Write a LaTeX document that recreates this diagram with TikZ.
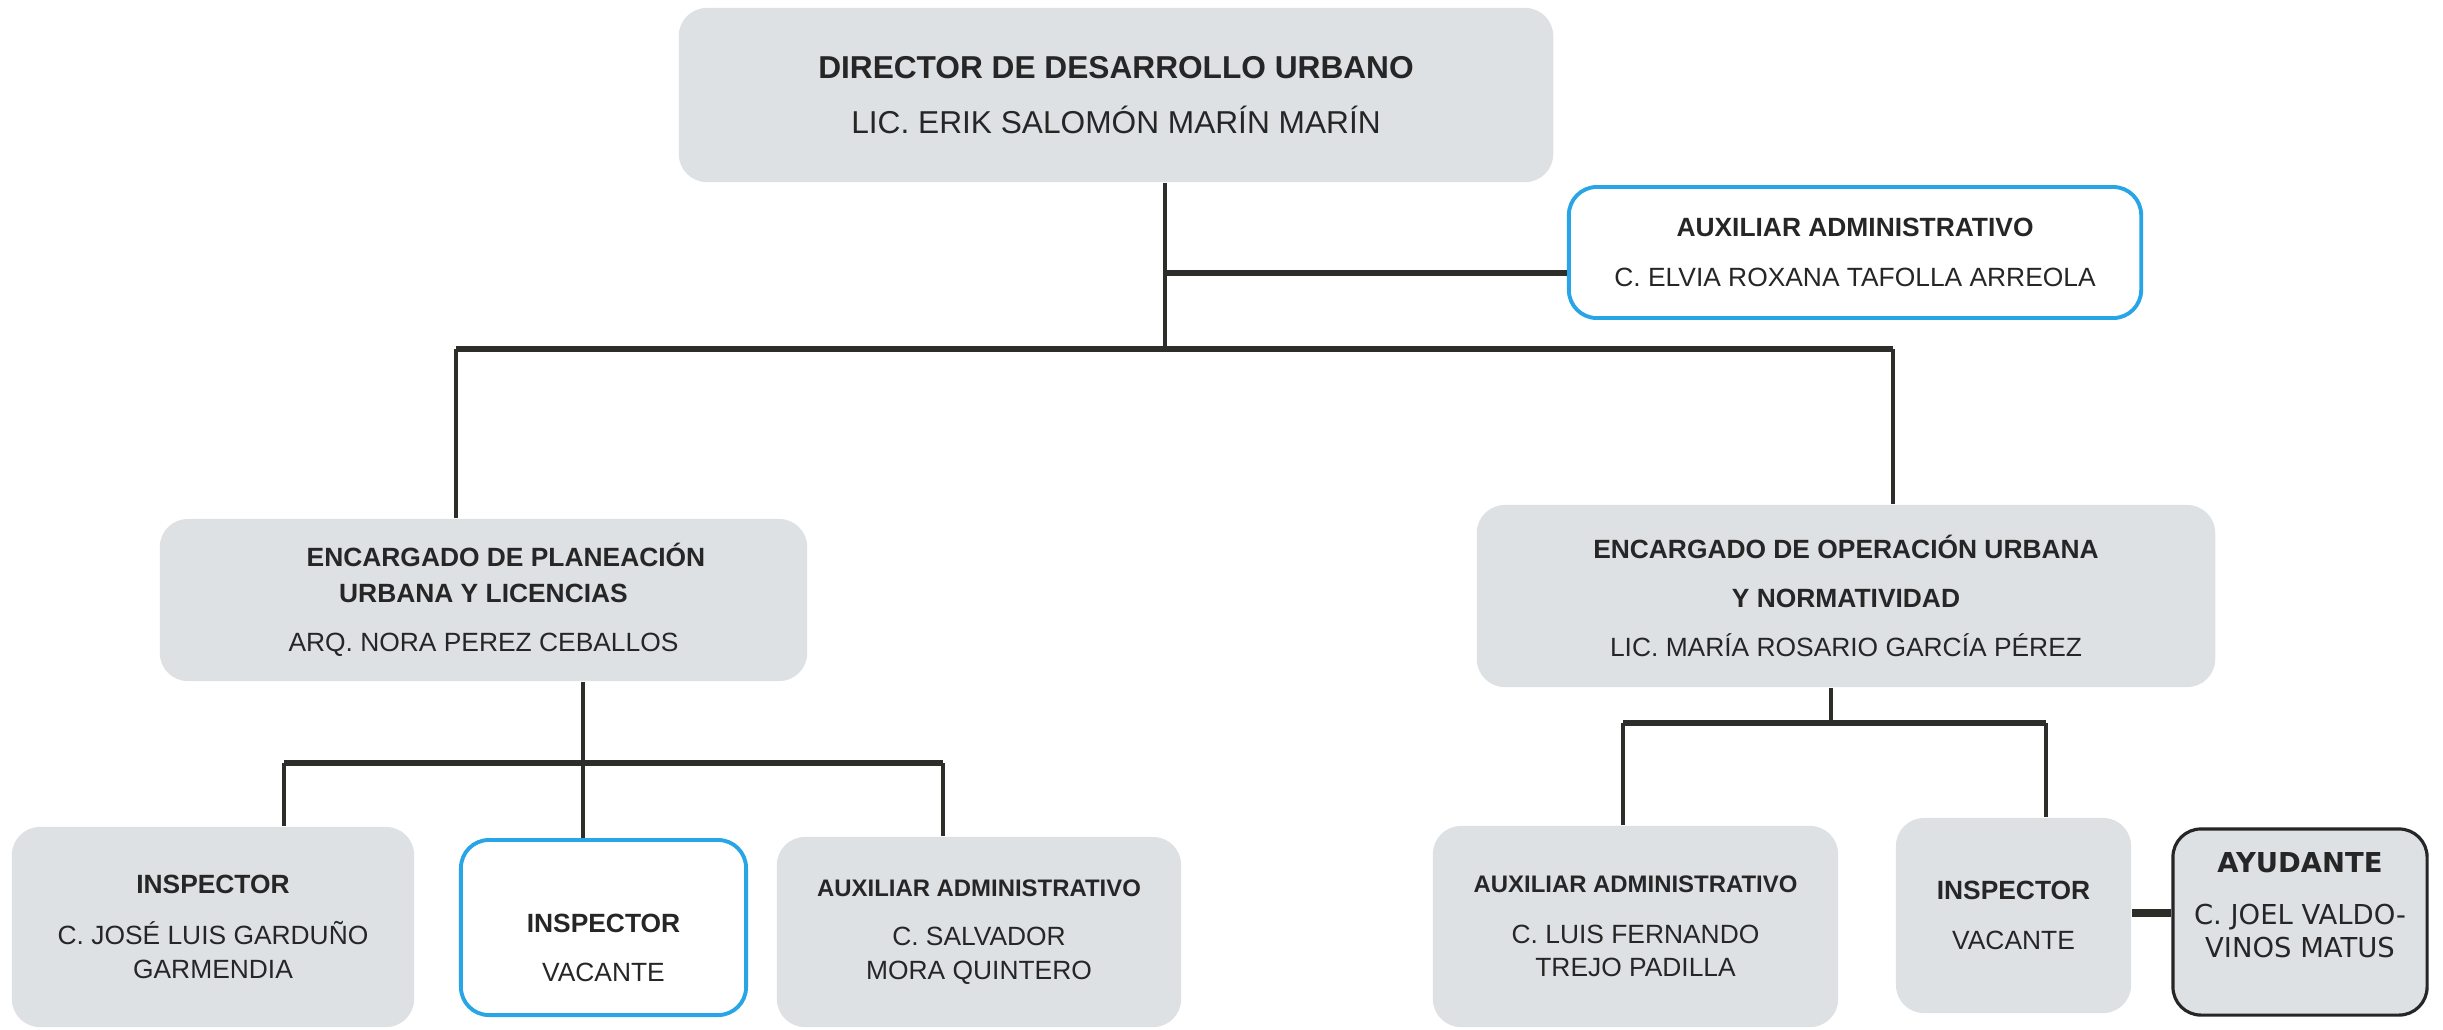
\documentclass[tikz,border=0pt]{standalone}
\usepackage{fontspec}
\setmainfont{Liberation Sans}
\newfontfamily\ayufont{DejaVu Sans}
\usepackage{tikz}
\usetikzlibrary{positioning, calc}
\definecolor{cajagris}{RGB}{221,225,228}
\definecolor{bordeazul}{RGB}{40,165,230}
\definecolor{lineaorg}{RGB}{45,45,42}

\tikzset{
  cargo/.style={rectangle, rounded corners=0.28cm, fill=cajagris, inner sep=0pt,
    align=center, font=\fontsize{7.5}{9}\selectfont, text=black!85},
  vacbox/.style={cargo, fill=white, draw=bordeazul, line width=1.1pt},
  ayubox/.style={cargo, draw=black!85, line width=0.9pt, font=\ayufont\fontsize{7.8}{9.4}\selectfont},
  vline/.style={draw=lineaorg, line width=1pt},
  hline/.style={draw=lineaorg, line width=1.7pt}
}
\newcommand{\puestochico}[1]{{\fontsize{6.8}{8}\selectfont\textbf{#1}}}

\begin{document}
\begin{tikzpicture}[x=0.01cm, y=-0.01cm]

    % === MARCO ===
    \path[fill=white] (0,0) rectangle (2443,1029);
    \useasboundingbox (0,0) rectangle (2443,1029);

    % === DIRECCION ===
    \node[cargo, minimum width=8.74cm, minimum height=1.74cm, font=\fontsize{9}{10.8}\selectfont] (dir) at (1116,95)
        {\textbf{DIRECTOR DE DESARROLLO URBANO}\\[4.7pt] LIC. ERIK SALOMÓN MARÍN MARÍN};

    \node[vacbox, minimum width=5.72cm, minimum height=1.31cm] (auxd) at (1855,252.5)
        {\textbf{AUXILIAR ADMINISTRATIVO}\\[5pt] C. ELVIA ROXANA TAFOLLA ARREOLA};

    % === ENCARGADOS ===
    \node[cargo, minimum width=6.47cm, minimum height=1.62cm] (plan) at (483.5,600)
        {\hspace*{0.45cm}\textbf{ENCARGADO DE PLANEACIÓN}\\[1.2pt]\textbf{URBANA Y LICENCIAS}\\[5pt] ARQ. NORA PEREZ CEBALLOS};

    \node[cargo, minimum width=7.38cm, minimum height=1.82cm] (oper) at (1846,596)
        {\textbf{ENCARGADO DE OPERACIÓN URBANA}\\[5pt]\textbf{Y NORMATIVIDAD}\\[5pt] LIC. MARÍA ROSARIO GARCÍA PÉREZ};

    % === PERSONAL DE PLANEACION ===
    \node[cargo, minimum width=4.02cm, minimum height=2.00cm] (insA) at (213,927)
        {\textbf{INSPECTOR}\\[5.5pt] C. JOSÉ LUIS GARDUÑO\\[0.7pt] GARMENDIA};

    \node[vacbox, minimum width=2.85cm, minimum height=1.75cm] (insB) at (603.5,927.5)
        {\rule{0pt}{17pt}\textbf{INSPECTOR}\\[5pt] VACANTE};

    \node[cargo, minimum width=4.04cm, minimum height=1.90cm] (auxA) at (979,932)
        {\puestochico{AUXILIAR ADMINISTRATIVO}\\[5pt] C. SALVADOR\\[0.7pt] MORA QUINTERO};

    % === PERSONAL DE OPERACION ===
    \node[cargo, minimum width=4.05cm, minimum height=2.01cm] (auxB) at (1635.5,926.5)
        {\puestochico{AUXILIAR ADMINISTRATIVO}\\[5.5pt] C. LUIS FERNANDO\\[0.5pt] TREJO PADILLA};

    \node[cargo, minimum width=2.35cm, minimum height=1.95cm] (insC) at (2013.5,915.5)
        {\textbf{INSPECTOR}\\[5.3pt] VACANTE};

    \node[ayubox, minimum width=2.54cm, minimum height=1.86cm] (ayu) at (2300,922)
        {\textbf{AYUDANTE}\\[5.4pt] C. JOEL VALDO-\\ VINOS MATUS\rule[-9.6pt]{0pt}{0pt}};

    % === LINEAS DE MANDO ===
    \coordinate (dirbase) at (1165,349);
    \coordinate (auxjoin) at (1165,273);
    \coordinate (planup) at (456,349);
    \coordinate (operup) at (1893,349);
    \draw[vline] (dir.south -| dirbase) -- (dirbase);
    \draw[hline] (auxjoin) -- (auxjoin -| auxd.west);
    \draw[hline] (planup) -- (operup);
    \draw[vline] (planup) -- (planup |- plan.north);
    \draw[vline] (operup) -- (operup |- oper.north);

    % Planeacion
    \coordinate (plandown) at (583,763);
    \coordinate (plangA) at (284,763);
    \coordinate (plangC) at (943,763);
    \draw[vline] (plan.south -| plandown) -- (plandown |- insB.north);
    \draw[hline] (plangA) -- (plangC);
    \draw[vline] (plangA) -- (plangA |- insA.north);
    \draw[vline] (plangC) -- (plangC |- auxA.north);

    % Operacion
    \coordinate (operdown) at (1831,723);
    \coordinate (opergA) at (1623,723);
    \coordinate (opergB) at (2046,723);
    \draw[vline] (oper.south -| operdown) -- (operdown);
    \draw[hline] (opergA) -- (opergB);
    \draw[vline] (opergA) -- (opergA |- auxB.north);
    \draw[vline] (opergB) -- (opergB |- insC.north);

    % Ayudante
    \coordinate (ayujoin) at (2150,913);
    \draw[hline, line width=2.2pt] (ayujoin -| insC.east) -- (ayujoin -| ayu.west);

\end{tikzpicture}
\end{document}
